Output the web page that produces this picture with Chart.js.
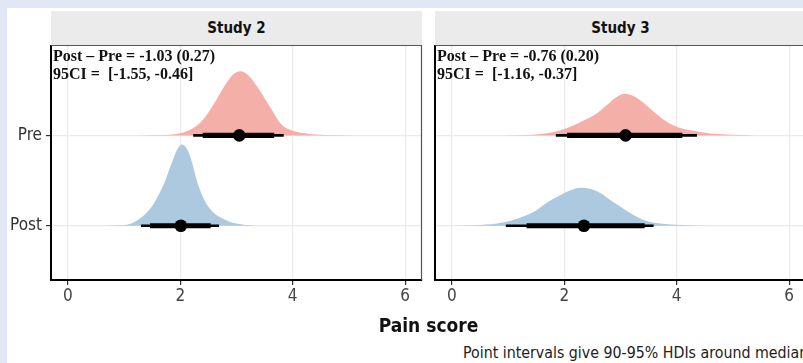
<!DOCTYPE html>
<html>
<head>
<meta charset="utf-8">
<script src="https://cdn.jsdelivr.net/npm/chart.js@4.4.1/dist/chart.umd.min.js"></script>
<style>
  html, body { margin: 0; padding: 0; }
  body { width: 803px; height: 363px; overflow: hidden; background: #e3e6f4; position: relative;
         font-family: "DejaVu Sans Condensed", "Liberation Sans Narrow", "Roboto", sans-serif; }
  #sheet { position: absolute; left: 7px; top: 8px; width: 800px; height: 360px; background: #fff; }
  canvas { position: absolute; top: 45px; }
  .strip { position: absolute; top: 11px; height: 34px; background: #ebebeb; color: #111;
           font-weight: bold; font-size: 15px; line-height: 35px; text-align: center; }
  .note { position: absolute; top: 47px; font-family: "Liberation Serif", "DejaVu Serif", serif;
          font-weight: bold; font-size: 16px; line-height: 18px; color: #111; white-space: pre; z-index: 2; }
  #xtitle { position: absolute; left: 0; width: 857px; top: 314px; text-align: center;
            font-weight: bold; font-size: 19px; color: #111; }
  #caption { position: absolute; left: 463px; top: 343px; font-size: 15.8px; color: #222; white-space: nowrap; }
</style>
</head>
<body>
<div id="sheet"></div>
<div class="strip" id="strip1" style="left:51px;width:371px"></div>
<div class="strip" id="strip2" style="left:435px;width:371px"></div>
<canvas id="panel1" width="425" height="275" style="left:0px"></canvas>
<canvas id="panel2" width="384" height="275" style="left:425px"></canvas>
<div class="note" id="note1" style="left:53px"></div>
<div class="note" id="note2" style="left:437px"></div>
<div id="xtitle">Pain score</div>
<div id="caption">Point intervals give 90-95% HDIs around median</div>
<script>
// ── DATA ──────────────────────────────────────────────────────
const studies  = ['Study 2', 'Study 3'];
const groups   = ['Post', 'Pre'];          // y = 1, y = 2
const xTicks   = [0, 2, 4, 6];
const diffText = ['Post – Pre = -1.03 (0.27)', 'Post – Pre = -0.76 (0.20)'];
const ciText   = ['95CI =  [-1.55, -0.46]', '95CI =  [-1.16, -0.37]'];

// posterior slabs, heights in y-units above each row
const s2PreX  = [1.2, 1.6, 2.0, 2.2, 2.4, 2.6, 2.8, 2.95, 3.07, 3.2, 3.4, 3.6, 3.8, 4.0, 4.3, 4.7, 5.2];
const s2PreH  = [0.0, 0.004, 0.025, 0.07, 0.17, 0.35, 0.56, 0.68, 0.71, 0.67, 0.51, 0.31, 0.12, 0.05, 0.016, 0.004, 0.0];
const s2PostX = [0.6, 0.9, 1.1, 1.3, 1.5, 1.7, 1.85, 1.95, 2.03, 2.12, 2.2, 2.32, 2.45, 2.6, 2.75, 2.9, 3.1, 3.4];
const s2PostH = [0.0, 0.005, 0.02, 0.09, 0.22, 0.45, 0.70, 0.85, 0.90, 0.85, 0.72, 0.45, 0.26, 0.14, 0.08, 0.04, 0.015, 0.0];
const s3PreX  = [0.9, 1.3, 1.6, 1.9, 2.2, 2.4, 2.55, 2.75, 2.9, 3.07, 3.25, 3.45, 3.65, 3.85, 4.05, 4.3, 4.6, 5.0, 5.4];
const s3PreH  = [0.0, 0.004, 0.015, 0.05, 0.12, 0.18, 0.23, 0.33, 0.41, 0.46, 0.43, 0.34, 0.23, 0.14, 0.085, 0.05, 0.022, 0.007, 0.0];
const s3PostX = [0.0, 0.4, 0.8, 1.05, 1.3, 1.5, 1.7, 1.9, 2.1, 2.3, 2.45, 2.65, 2.85, 3.0, 3.2, 3.45, 3.7, 4.1, 4.7];
const s3PostH = [0.0, 0.006, 0.025, 0.055, 0.11, 0.17, 0.26, 0.33, 0.39, 0.42, 0.41, 0.36, 0.27, 0.21, 0.13, 0.055, 0.025, 0.008, 0.0];

// point intervals: [95% lo, 90% lo, median, 90% hi, 95% hi]
const s2PreInt  = [2.23, 2.40, 3.05, 3.67, 3.84];
const s2PostInt = [1.30, 1.46, 2.01, 2.54, 2.69];
const s3PreInt  = [1.85, 2.05, 3.09, 4.10, 4.36];
const s3PostInt = [0.96, 1.33, 2.35, 3.43, 3.59];

// ── STYLE ─────────────────────────────────────────────────────
const PRE_FILL  = '#f4b0a8';
const POST_FILL = '#adc9df';
const GRID      = '#ebebeb';
const SANS      = '"DejaVu Sans Condensed", "Liberation Sans Narrow", "Roboto", sans-serif';

document.getElementById('strip1').textContent = studies[0];
document.getElementById('strip2').textContent = studies[1];
document.getElementById('note1').textContent = diffText[0] + '\n' + ciText[0];
document.getElementById('note2').textContent = diffText[1] + '\n' + ciText[1];

// ── DATASET BUILDERS ──────────────────────────────────────────
function slab(xs, hs, base, color) {
  return {
    type: 'scatter', showLine: true,
    data: xs.map((x, i) => ({ x, y: base + hs[i] })),
    fill: { value: base }, backgroundColor: color, borderColor: color,
    borderWidth: 0, pointRadius: 0, cubicInterpolationMode: 'monotone', order: 3
  };
}
function seg(lo, hi, base, w, ord) {
  return {
    type: 'scatter', showLine: true,
    data: [{ x: lo, y: base }, { x: hi, y: base }],
    borderColor: '#000', borderWidth: w, borderCapStyle: 'butt', pointRadius: 0, order: ord
  };
}
function intervals(iv, base) {
  return [
    seg(iv[0], iv[4], base, 2.6, 2),
    seg(iv[1], iv[3], base, 5.2, 1),
    { type: 'scatter', data: [{ x: iv[2], y: base }], pointRadius: 6.3,
      backgroundColor: '#000', borderWidth: 0, order: 0 }
  ];
}

// panel border: grey top + right, axes give black left + bottom
const panelBorder = {
  id: 'panelBorder',
  afterDatasetsDraw(chart) {
    const { ctx, chartArea: a } = chart;
    ctx.save();
    ctx.strokeStyle = '#555';
    ctx.lineWidth = 1.2;
    ctx.beginPath();
    ctx.moveTo(a.left, a.top + 0.5);
    ctx.lineTo(a.right - 0.5, a.top + 0.5);
    ctx.lineTo(a.right - 0.5, a.bottom);
    ctx.stroke();
    ctx.restore();
  }
};

function buildPanel(id, pre, post, showY, yWidth) {
  return new Chart(document.getElementById(id), {
    type: 'scatter',
    data: {
      datasets: [
        slab(pre.x, pre.h, 2, PRE_FILL),
        slab(post.x, post.h, 1, POST_FILL),
        ...intervals(pre.iv, 2),
        ...intervals(post.iv, 1)
      ]
    },
    options: {
      responsive: false,
      animation: false,
      layout: { padding: { left: 0, right: 3, top: 0, bottom: 0 }, autoPadding: false },
      plugins: { legend: { display: false }, tooltip: { enabled: false } },
      scales: {
        x: {
          type: 'linear', min: -0.3, max: 6.3,
          afterBuildTicks: s => { s.ticks = xTicks.map(v => ({ value: v })); },
          afterFit: s => { s.height = 40; s.paddingLeft = 0; s.paddingRight = 0; },
          grid: { color: GRID, lineWidth: 1.2, tickColor: '#333', tickLength: 5 },
          border: { color: '#000', width: 2 },
          ticks: { color: '#444', font: { family: SANS, size: 17 }, padding: 1,
                   maxRotation: 0, autoSkip: false, callback: v => String(v) }
        },
        y: {
          type: 'linear', min: 0.4, max: 3.0,
          afterBuildTicks: s => { s.ticks = [1, 2].map(v => ({ value: v })); },
          afterFit: s => { s.width = yWidth; s.paddingTop = 0; s.paddingBottom = 0; },
          grid: { color: GRID, lineWidth: 1.2, tickColor: '#333', tickLength: 5, drawTicks: showY },
          border: { color: '#000', width: 2 },
          ticks: { display: showY, color: '#333', font: { family: SANS, size: 17 }, padding: 4,
                   callback: v => groups[v - 1] }
        }
      }
    },
    plugins: [panelBorder]
  });
}

buildPanel('panel1',
  { x: s2PreX, h: s2PreH, iv: s2PreInt },
  { x: s2PostX, h: s2PostH, iv: s2PostInt }, true, 51);
buildPanel('panel2',
  { x: s3PreX, h: s3PreH, iv: s3PreInt },
  { x: s3PostX, h: s3PostH, iv: s3PostInt }, false, 10);
</script>
</body>
</html>
